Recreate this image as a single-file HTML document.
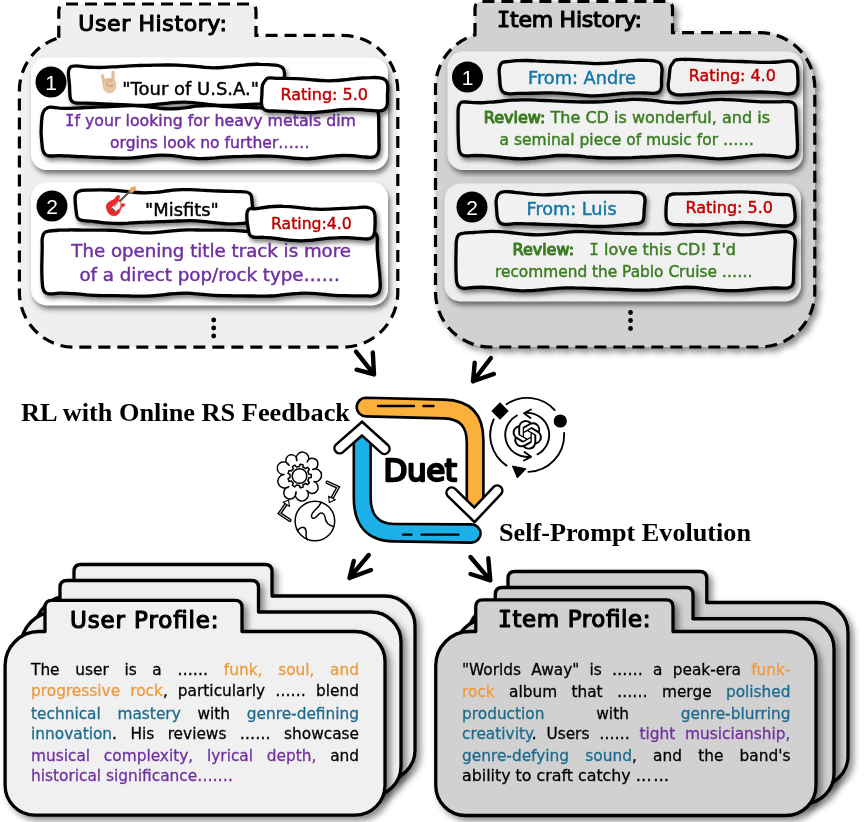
<!DOCTYPE html>
<html lang="en"><head><meta charset="utf-8"><title>Duet</title>
<style>html,body{margin:0;padding:0;background:#fff}body{width:864px;height:822px;overflow:hidden;position:relative}svg{display:block;position:absolute;left:0;top:0;will-change:transform}
.ln{position:absolute;height:21px;line-height:21px;font-family:'DejaVu Sans','Liberation Sans',sans-serif;font-size:16px;color:#000;white-space:nowrap;text-align:justify;text-align-last:justify;-webkit-text-stroke:0.3px currentColor}
.ln.l{text-align:left;text-align-last:left}
.o{color:#EF9A3C}.t{color:#1B6A8E}.p{color:#7030A0}</style>
</head><body>
<svg width="864" height="822" viewBox="0 0 864 822">
<defs>
<filter id="sh" x="-10%" y="-10%" width="125%" height="135%"><feDropShadow dx="2" dy="3.2" stdDeviation="2.2" flood-color="#000" flood-opacity="0.5"/></filter>
<filter id="shc" x="-10%" y="-10%" width="125%" height="135%"><feDropShadow dx="2" dy="4" stdDeviation="2.6" flood-color="#000" flood-opacity="0.5"/></filter>
<filter id="shp" x="-10%" y="-10%" width="125%" height="125%"><feDropShadow dx="4" dy="4" stdDeviation="3" flood-color="#000" flood-opacity="0.45"/></filter>
</defs>
<path d="M58.8 37.7V11Q58.8 4 65.8 4H249Q256 4 256 11V35.4H342.8A55 55 0 0 1 397.8 90.4V292.2A55 55 0 0 1 342.8 347.2H74.4A55 55 0 0 1 19.4 292.2V90.4A55 55 0 0 1 58.8 37.7Z" fill="#efefef" stroke="#000" stroke-width="3.2" stroke-dasharray="12 7"/>
<rect x="31" y="57.5" width="357" height="112.5" rx="16" fill="#fff" filter="url(#shc)"/>
<rect x="31" y="182.3" width="357" height="123" rx="16" fill="#fff" filter="url(#shc)"/>
<circle cx="51" cy="82" r="15.5" fill="#000"/><text x="51" y="89.5" text-anchor="middle" font-family="'Liberation Sans',sans-serif" font-size="21" fill="#fff">1</text>
<path d="M76 65.8C78.5 65.7 82.1 66.6 85.2 66.8C88.2 67.1 91.3 67.3 94.4 67.4C97.4 67.5 100.5 67.5 103.5 67.4C106.6 67.3 109.7 67.1 112.7 66.9C115.8 66.8 118.8 66.5 121.9 66.3C125 66.1 128 66 131.1 65.8C134.2 65.7 137.2 65.6 140.3 65.5C143.3 65.4 146.4 65.4 149.5 65.3C152.5 65.2 155.6 65.2 158.6 65.1C161.7 65 164.8 65 167.8 65C170.9 65 173.9 65 177 65.1C180.1 65.2 183.1 65.4 186.2 65.6C189.2 65.8 192.3 66.2 195.4 66.4C198.4 66.7 201.5 67.1 204.5 67.3C207.6 67.5 210.7 67.7 213.7 67.8C216.8 67.8 219.8 67.7 222.9 67.5C226 67.3 229 66.9 232.1 66.6C235.2 66.2 238.2 65.8 241.3 65.4C244.3 65.1 247.4 64.7 250.5 64.5C253.5 64.3 256.6 64.2 259.6 64.3C262.7 64.3 265.8 64.5 268.8 64.7C271.9 64.9 275.7 65 278 65.5C280.3 66.1 281.8 66.8 282.9 68.1C284 69.3 284.3 70.2 284.5 73C284.7 75.8 284.1 81 284 85C284 89 284.4 94.3 284.1 97C283.8 99.7 283.4 100.3 282.4 101.4C281.4 102.4 280.3 102.9 278 103.3C275.7 103.6 271.9 103.4 268.8 103.5C265.8 103.6 262.7 103.6 259.6 103.8C256.6 103.9 253.5 104.1 250.5 104.3C247.4 104.5 244.3 104.7 241.3 104.9C238.2 105.1 235.2 105.3 232.1 105.4C229 105.5 226 105.5 222.9 105.5C219.8 105.4 216.8 105.2 213.7 104.9C210.7 104.6 207.6 104.2 204.5 103.8C201.5 103.5 198.4 103.1 195.4 102.8C192.3 102.5 189.2 102.2 186.2 102.2C183.1 102.1 180.1 102.2 177 102.3C173.9 102.5 170.9 102.8 167.8 103.2C164.8 103.5 161.7 103.9 158.6 104.2C155.6 104.6 152.5 104.9 149.5 105.1C146.4 105.3 143.3 105.4 140.3 105.4C137.2 105.4 134.2 105.3 131.1 105.2C128 105.1 125 104.9 121.9 104.7C118.8 104.5 115.8 104.3 112.7 104.2C109.7 104 106.6 103.9 103.5 103.8C100.5 103.7 97.4 103.6 94.4 103.5C91.3 103.4 88.2 103.3 85.2 103.2C82.1 103.2 78.2 103.3 76 103C73.8 102.6 72.8 102.2 71.8 101.2C70.9 100.2 70.5 99.7 70.1 97C69.7 94.3 69.8 89 69.5 85C69.3 81 68.3 76 68.4 73C68.5 70 68.9 68.4 70.2 67.2C71.5 66 73.5 65.8 76 65.8Z" fill="#fff" stroke="#000" stroke-width="3.3" stroke-linejoin="round" filter="url(#sh)"/>
<path d="M50 107.2C52.3 107 56.1 107.9 59.2 108.1C62.2 108.2 65.3 108.3 68.3 108.3C71.4 108.3 74.5 108.1 77.5 108C80.6 107.8 83.6 107.7 86.7 107.5C89.7 107.4 92.8 107.3 95.9 107.1C98.9 107 102 106.9 105 106.8C108.1 106.7 111.1 106.5 114.2 106.4C117.3 106.2 120.3 106 123.4 105.9C126.4 105.8 129.5 105.6 132.5 105.7C135.6 105.7 138.7 105.9 141.7 106.1C144.8 106.3 147.8 106.8 150.9 107.1C153.9 107.5 157 108 160.1 108.3C163.1 108.6 166.2 108.8 169.2 108.9C172.3 108.9 175.3 108.7 178.4 108.5C181.5 108.2 184.5 107.8 187.6 107.4C190.6 107 193.7 106.5 196.7 106.2C199.8 105.9 202.9 105.6 205.9 105.6C209 105.5 212 105.6 215.1 105.7C218.1 105.8 221.2 106.1 224.3 106.3C227.3 106.5 230.4 106.7 233.4 106.9C236.5 107.1 239.5 107.2 242.6 107.3C245.7 107.4 248.7 107.5 251.8 107.6C254.8 107.7 257.9 107.8 260.9 107.9C264 107.9 267.1 108.1 270.1 108.1C273.2 108.1 276.2 108.1 279.3 108C282.3 107.9 285.4 107.6 288.5 107.3C291.5 107.1 294.6 106.6 297.6 106.3C300.7 106 303.7 105.6 306.8 105.4C309.9 105.2 312.9 105.1 316 105.2C319 105.3 322.1 105.6 325.1 106C328.2 106.3 331.3 106.9 334.3 107.3C337.4 107.7 340.4 108.1 343.5 108.3C346.5 108.6 349.6 108.7 352.7 108.6C355.7 108.6 358.8 108.4 361.8 108.2C364.9 107.9 368.6 107.2 371 107.3C373.4 107.5 374.8 107.9 376 109C377.3 110.1 378 111.7 378.4 114C378.9 116.3 378.7 120 378.7 123C378.8 126 378.8 129 378.8 132C378.9 135 378.9 138 378.9 141C378.9 144 379.2 147.6 378.8 150C378.4 152.4 377.7 154.2 376.4 155.4C375.1 156.7 373.4 157.2 371 157.4C368.6 157.6 364.9 156.8 361.8 156.6C358.8 156.3 355.7 155.9 352.7 155.7C349.6 155.5 346.5 155.3 343.5 155.3C340.4 155.3 337.4 155.5 334.3 155.8C331.3 156 328.2 156.5 325.1 156.9C322.1 157.4 319 157.9 316 158.2C312.9 158.5 309.9 158.7 306.8 158.8C303.7 158.8 300.7 158.7 297.6 158.4C294.6 158.2 291.5 157.8 288.5 157.5C285.4 157.2 282.3 156.8 279.3 156.6C276.2 156.3 273.2 156.2 270.1 156.1C267.1 156 264 156 260.9 156C257.9 156 254.8 156.1 251.8 156.2C248.7 156.2 245.7 156.3 242.6 156.4C239.5 156.4 236.5 156.5 233.4 156.6C230.4 156.7 227.3 156.9 224.3 157.1C221.2 157.3 218.1 157.6 215.1 157.9C212 158.1 209 158.4 205.9 158.5C202.9 158.6 199.8 158.6 196.7 158.5C193.7 158.3 190.6 158 187.6 157.7C184.5 157.3 181.5 156.8 178.4 156.4C175.3 156 172.3 155.6 169.2 155.4C166.2 155.2 163.1 155.1 160.1 155.2C157 155.3 153.9 155.6 150.9 155.9C147.8 156.2 144.8 156.7 141.7 157C138.7 157.4 135.6 157.7 132.5 157.9C129.5 158.1 126.4 158.2 123.4 158.2C120.3 158.2 117.3 158.1 114.2 158C111.1 157.9 108.1 157.7 105 157.6C102 157.5 98.9 157.4 95.9 157.3C92.8 157.2 89.7 157.1 86.7 156.9C83.6 156.8 80.6 156.6 77.5 156.5C74.5 156.3 71.4 156 68.3 155.9C65.3 155.8 62.2 155.6 59.2 155.6C56.1 155.6 52.3 156.1 50 156C47.7 155.8 46.6 155.6 45.4 154.6C44.2 153.6 43.5 152.3 42.8 150C42.2 147.7 42 144 41.7 141C41.4 138 41.2 135 41.1 132C41.1 129 41.3 126 41.5 123C41.7 120 41.9 116.3 42.6 114C43.2 111.7 44 110.4 45.3 109.3C46.5 108.1 47.7 107.4 50 107.2Z" fill="#fff" stroke="#000" stroke-width="3.3" stroke-linejoin="round" filter="url(#sh)"/>
<path d="M268 78.1C270.2 77.5 274.2 78.2 277.3 78.3C280.4 78.3 283.6 78.3 286.7 78.4C289.8 78.4 292.9 78.5 296 78.6C299.1 78.7 302.2 78.9 305.3 79.2C308.4 79.4 311.6 79.8 314.7 80C317.8 80.3 320.9 80.6 324 80.7C327.1 80.8 330.2 80.8 333.3 80.7C336.4 80.6 339.6 80.3 342.7 80C345.8 79.7 348.9 79.3 352 78.9C355.1 78.6 358.2 78.2 361.3 78C364.4 77.7 367.6 77.6 370.7 77.6C373.8 77.5 377.5 77.3 380 77.8C382.5 78.2 384.4 79 385.7 80.3C386.9 81.7 387.5 83.6 387.8 86C388 88.4 387.5 92 387.4 95C387.4 98 387.7 101.7 387.3 104C386.9 106.3 386.2 107.9 385 109C383.8 110.2 382.4 110.7 380 110.9C377.6 111.1 373.8 110.6 370.7 110.4C367.6 110.2 364.4 109.9 361.3 109.7C358.2 109.5 355.1 109.3 352 109.3C348.9 109.3 345.8 109.4 342.7 109.6C339.6 109.8 336.4 110.2 333.3 110.6C330.2 110.9 327.1 111.4 324 111.7C320.9 112 317.8 112.3 314.7 112.5C311.6 112.6 308.4 112.6 305.3 112.6C302.2 112.5 299.1 112.3 296 112.1C292.9 111.9 289.8 111.7 286.7 111.5C283.6 111.3 280.4 111.2 277.3 111.1C274.2 110.9 270.3 111.2 268 110.8C265.7 110.4 264.3 109.9 263.3 108.7C262.2 107.6 261.7 106.3 261.5 104C261.2 101.7 261.7 98 261.9 95C262 92 262 88.1 262.3 86C262.7 83.9 263.2 83.4 264.1 82.1C265 80.8 265.8 78.7 268 78.1Z" fill="#fff" stroke="#000" stroke-width="3.3" stroke-linejoin="round" filter="url(#sh)"/>
<text x="122.3" y="95.2" font-family="'DejaVu Sans','Liberation Sans',sans-serif" font-size="18" font-weight="400" fill="#000" stroke="#000" stroke-width="0.45" stroke-linejoin="round" textLength="136.7" lengthAdjust="spacingAndGlyphs" >"Tour of U.S.A."</text>
<text x="280.5" y="100" font-family="'DejaVu Sans','Liberation Sans',sans-serif" font-size="16.5" font-weight="400" fill="#C00000" stroke="#C00000" stroke-width="0.45" stroke-linejoin="round" textLength="87.5" lengthAdjust="spacingAndGlyphs" >Rating: 5.0</text>
<text x="64.9" y="125.8" font-family="'DejaVu Sans','Liberation Sans',sans-serif" font-size="15.5" font-weight="400" fill="#7030A0" stroke="#7030A0" stroke-width="0.45" stroke-linejoin="round" textLength="291.1" lengthAdjust="spacingAndGlyphs" ><tspan font-family="'DejaVu Sans Mono','Liberation Mono',monospace">I</tspan>f your looking for heavy metals dim</text>
<text x="110" y="147.5" font-family="'DejaVu Sans','Liberation Sans',sans-serif" font-size="15.5" font-weight="400" fill="#7030A0" stroke="#7030A0" stroke-width="0.45" stroke-linejoin="round" textLength="199.5" lengthAdjust="spacingAndGlyphs" >orgins look no further……</text>
<circle cx="52" cy="206" r="15.5" fill="#000"/><text x="52" y="213.5" text-anchor="middle" font-family="'Liberation Sans',sans-serif" font-size="21" fill="#fff">2</text>
<path d="M82 190.3C84.4 189.9 88.1 190.1 91.1 190.1C94.1 190 97.2 189.9 100.2 189.9C103.3 189.9 106.3 189.9 109.3 190C112.4 190.1 115.4 190.4 118.4 190.6C121.5 190.9 124.5 191.3 127.6 191.6C130.6 191.9 133.6 192.3 136.7 192.5C139.7 192.7 142.7 192.9 145.8 192.8C148.8 192.8 151.9 192.6 154.9 192.4C157.9 192.1 161 191.7 164 191.3C167 191 170.1 190.5 173.1 190.2C176.1 189.9 179.2 189.7 182.2 189.6C185.3 189.5 188.3 189.5 191.3 189.6C194.4 189.7 197.4 189.9 200.4 190.1C203.5 190.2 206.5 190.5 209.6 190.6C212.6 190.8 215.6 190.9 218.7 191C221.7 191.1 224.7 191.2 227.8 191.3C230.8 191.4 233.9 191.5 236.9 191.6C239.9 191.7 243.8 191.6 246 192C248.2 192.4 249.2 192.9 250.1 193.9C251.1 194.9 251.3 194.5 251.7 198C252.1 201.5 252.7 211.3 252.6 215C252.5 218.7 252.2 218.8 251.1 220.1C250 221.4 248.4 222.2 246 222.8C243.6 223.4 239.9 223.5 236.9 223.7C233.9 223.8 230.8 223.9 227.8 223.8C224.7 223.7 221.7 223.5 218.7 223.2C215.6 222.9 212.6 222.4 209.6 222.1C206.5 221.8 203.5 221.4 200.4 221.1C197.4 220.9 194.4 220.8 191.3 220.7C188.3 220.6 185.3 220.7 182.2 220.8C179.2 220.9 176.1 221.1 173.1 221.2C170.1 221.3 167 221.5 164 221.6C161 221.7 157.9 221.7 154.9 221.8C151.9 221.9 148.8 222 145.8 222.2C142.7 222.3 139.7 222.5 136.7 222.6C133.6 222.8 130.6 223 127.6 223.2C124.5 223.3 121.5 223.5 118.4 223.5C115.4 223.5 112.4 223.4 109.3 223.2C106.3 223 103.3 222.7 100.2 222.3C97.2 222 94.1 221.5 91.1 221.2C88.1 220.8 84.1 220.7 82 220.3C79.9 219.9 79.2 219.5 78.4 218.6C77.5 217.8 77.3 218.4 76.7 215C76.2 211.6 75.1 201.7 75.1 198C75.1 194.3 75.6 194 76.7 192.7C77.9 191.5 79.6 190.7 82 190.3Z" fill="#fff" stroke="#000" stroke-width="3.3" stroke-linejoin="round" filter="url(#sh)"/>
<path d="M50 231C52.4 230.6 56.1 230.4 59.2 230.2C62.3 230.1 65.3 230 68.4 230C71.5 229.9 74.5 230 77.6 230C80.7 230.1 83.7 230.1 86.8 230.2C89.9 230.2 92.9 230.2 96 230.1C99.1 230.1 102.1 230.1 105.2 230.1C108.3 230.2 111.3 230.3 114.4 230.4C117.5 230.6 120.5 230.9 123.6 231.2C126.7 231.4 129.7 231.8 132.8 232.1C135.9 232.4 138.9 232.6 142 232.8C145.1 232.9 148.1 232.9 151.2 232.8C154.3 232.7 157.3 232.4 160.4 232.1C163.5 231.8 166.5 231.4 169.6 231.1C172.7 230.8 175.7 230.5 178.8 230.3C181.9 230.1 184.9 230 188 229.9C191.1 229.9 194.1 230 197.2 230C200.3 230 203.3 230.1 206.4 230.1C209.5 230.2 212.5 230.2 215.6 230.2C218.7 230.2 221.7 230.1 224.8 230.2C227.9 230.2 230.9 230.3 234 230.4C237.1 230.5 240.1 230.8 243.2 231C246.3 231.3 249.3 231.7 252.4 231.9C255.5 232.2 258.5 232.5 261.6 232.7C264.7 232.8 267.7 232.9 270.8 232.8C273.9 232.7 276.9 232.5 280 232.2C283.1 232 286.1 231.6 289.2 231.2C292.3 230.9 295.3 230.6 298.4 230.4C301.5 230.1 304.5 230 307.6 229.9C310.7 229.9 313.7 229.9 316.8 229.9C319.9 230 322.9 230.1 326 230.1C329.1 230.2 332.1 230.2 335.2 230.2C338.3 230.2 341.3 230.2 344.4 230.2C347.5 230.2 350.5 230.2 353.6 230.4C356.7 230.5 359.7 230.7 362.8 230.9C365.9 231.2 369.8 231.3 372 231.8C374.2 232.3 375.1 232.9 376 234C376.9 235 377.1 235.7 377.3 238C377.5 240.3 377.1 244.7 377.2 248C377.3 251.3 377.6 254.7 377.9 258C378.2 261.3 378.7 264.7 379 268C379.4 271.3 379.7 274.7 379.9 278C380.1 281.3 380.5 285.4 380.1 288C379.8 290.6 379.1 292.4 377.7 293.7C376.4 295 374.5 295.6 372 296C369.5 296.3 365.9 295.8 362.8 295.8C359.7 295.8 356.7 295.8 353.6 295.8C350.5 295.8 347.5 295.8 344.4 295.7C341.3 295.6 338.3 295.5 335.2 295.3C332.1 295.1 329.1 294.8 326 294.5C322.9 294.3 319.9 293.9 316.8 293.7C313.7 293.4 310.7 293.2 307.6 293.2C304.5 293.1 301.5 293.2 298.4 293.4C295.3 293.5 292.3 293.9 289.2 294.2C286.1 294.5 283.1 294.9 280 295.2C276.9 295.5 273.9 295.8 270.8 296C267.7 296.1 264.7 296.2 261.6 296.2C258.5 296.2 255.5 296.1 252.4 296C249.3 296 246.3 295.9 243.2 295.8C240.1 295.8 237.1 295.8 234 295.8C230.9 295.7 227.9 295.8 224.8 295.7C221.7 295.6 218.7 295.6 215.6 295.4C212.5 295.2 209.5 294.9 206.4 294.7C203.3 294.4 200.3 294 197.2 293.8C194.1 293.6 191.1 293.3 188 293.2C184.9 293.1 181.9 293.2 178.8 293.3C175.7 293.4 172.7 293.7 169.6 294C166.5 294.3 163.5 294.8 160.4 295.1C157.3 295.4 154.3 295.7 151.2 295.9C148.1 296.1 145.1 296.2 142 296.2C138.9 296.2 135.9 296.1 132.8 296.1C129.7 296 126.7 295.9 123.6 295.8C120.5 295.8 117.5 295.8 114.4 295.7C111.3 295.7 108.3 295.7 105.2 295.7C102.1 295.6 99.1 295.6 96 295.4C92.9 295.3 89.9 295 86.8 294.8C83.7 294.5 80.7 294.2 77.6 293.9C74.5 293.7 71.5 293.4 68.4 293.3C65.3 293.2 62.3 293.1 59.2 293.2C56.1 293.3 52.3 294 50 293.9C47.7 293.8 46.6 293.6 45.4 292.6C44.2 291.6 43.5 290.4 42.9 288C42.3 285.6 42.2 281.3 42 278C41.8 274.7 41.8 271.3 41.8 268C41.8 264.7 41.9 261.3 42 258C42.1 254.7 42.2 251.3 42.2 248C42.3 244.7 41.9 240.6 42.3 238C42.7 235.4 43.3 233.8 44.6 232.6C45.9 231.4 47.6 231.4 50 231Z" fill="#fff" stroke="#000" stroke-width="3.3" stroke-linejoin="round" filter="url(#sh)"/>
<path d="M255 208.8C257.6 208.5 261.2 207.9 264.3 207.5C267.4 207.1 270.6 206.7 273.7 206.5C276.8 206.3 279.9 206.2 283 206.3C286.1 206.3 289.2 206.6 292.3 206.8C295.4 207.1 298.6 207.5 301.7 207.8C304.8 208.2 307.9 208.5 311 208.8C314.1 209 317.2 209.2 320.3 209.3C323.4 209.3 326.6 209.3 329.7 209.2C332.8 209.1 335.9 208.9 339 208.7C342.1 208.5 345.2 208.2 348.3 208.1C351.4 207.9 354.6 207.7 357.7 207.6C360.8 207.4 364.5 207 367 207.3C369.5 207.6 371.2 208.2 372.5 209.5C373.8 210.8 374.5 211.2 374.9 215C375.2 218.8 375 228.3 374.6 232C374.1 235.7 373.4 236 372.2 237.2C370.9 238.3 369.4 238.8 367 239C364.6 239.1 360.8 238.5 357.7 238.3C354.6 238.1 351.4 237.8 348.3 237.7C345.2 237.6 342.1 237.6 339 237.7C335.9 237.7 332.8 238 329.7 238.2C326.6 238.5 323.4 238.9 320.3 239.2C317.2 239.6 314.1 240 311 240.3C307.9 240.5 304.8 240.8 301.7 240.8C298.6 240.8 295.4 240.7 292.3 240.4C289.2 240.2 286.1 239.8 283 239.4C279.9 239 276.8 238.5 273.7 238.1C270.6 237.8 267.4 237.4 264.3 237.3C261.2 237.1 257.2 237.5 255 237.3C252.8 237.1 252 236.9 251 236C250 235.1 249.4 235.5 248.8 232C248.1 228.5 246.8 218.8 246.8 215C246.9 211.2 247.7 210.1 249 209C250.4 208 252.4 209 255 208.8Z" fill="#fff" stroke="#000" stroke-width="3.3" stroke-linejoin="round" filter="url(#sh)"/>
<text x="145" y="215.8" font-family="'DejaVu Sans','Liberation Sans',sans-serif" font-size="18" font-weight="400" fill="#000" stroke="#000" stroke-width="0.45" stroke-linejoin="round" textLength="73.8" lengthAdjust="spacingAndGlyphs" >"Misfits"</text>
<text x="271" y="228.8" font-family="'DejaVu Sans','Liberation Sans',sans-serif" font-size="16.5" font-weight="400" fill="#C00000" stroke="#C00000" stroke-width="0.45" stroke-linejoin="round" textLength="80.8" lengthAdjust="spacingAndGlyphs" >Rating:4.0</text>
<text x="71.3" y="256.7" font-family="'DejaVu Sans','Liberation Sans',sans-serif" font-size="17" font-weight="400" fill="#7030A0" stroke="#7030A0" stroke-width="0.45" stroke-linejoin="round" textLength="279.7" lengthAdjust="spacingAndGlyphs" >The opening title track is more</text>
<text x="79.4" y="280.5" font-family="'DejaVu Sans','Liberation Sans',sans-serif" font-size="17" font-weight="400" fill="#7030A0" stroke="#7030A0" stroke-width="0.45" stroke-linejoin="round" textLength="260.6" lengthAdjust="spacingAndGlyphs" >of a direct pop/rock type……</text>
<g stroke-linecap="round" stroke-linejoin="round"><path d="M113.1 72.2L113 85" stroke="#E3BE98" stroke-width="3.3" fill="none"/><path d="M102.4 75.6L104.6 85" stroke="#E3BE98" stroke-width="3.1" fill="none"/><path d="M103 83C103 80 106 78.5 109 78.5C112.5 78.5 115.6 80 115.8 84C116 89.5 113.5 92.8 109.3 92.8C105 92.8 102.6 88.5 103 83Z" fill="#E9C6A2" stroke="#E0B892" stroke-width="0.8"/><path d="M106.2 79.5V83M108.8 79V82.6M111.3 79.3V82.8" stroke="#D2A37B" stroke-width="0.7" fill="none"/><path d="M106.5 84.2C108 86.6 110.8 86.8 112.6 85.3" stroke="#C99A72" stroke-width="1.3" fill="none"/></g>
<g stroke-linecap="round" stroke-linejoin="round"><path d="M119.3 201.8L130 191" stroke="#555" stroke-width="2.1" fill="none"/><path d="M129.3 190.2L131.5 187.3L135.4 186.8L135.7 188.8L133.2 192.3L130.6 192.6Z" fill="#F2A45C" stroke="#E8964A" stroke-width="0.6"/><path d="M106.4 207.2C105.8 202.5 110.5 201.2 113.6 199.8C115.4 198.6 115.6 195.6 119.2 195.2C120.3 196.6 118.4 199 119.3 201.4L121.6 204C122.8 203.6 124 203.5 125 204.3C124.6 206 122.6 207 121.2 207.6C120.2 211.2 119.2 215 114.6 215.7C110 216.2 106.8 212 106.4 207.2Z" fill="#F0282A" stroke="#E11D22" stroke-width="0.6"/><path d="M111.8 207.6L118.6 201.2L120.6 203.4L120 208L115.4 211.4Z" fill="#F4F4F4" stroke="#DDD" stroke-width="0.4"/><path d="M112 208.6L114.8 211" stroke="#555" stroke-width="1.3" fill="none"/><path d="M114.2 205.8L117.2 203" stroke="#888" stroke-width="1.6" fill="none"/></g>
<circle cx="213.7" cy="320" r="2.4" fill="#000"/>
<circle cx="213.7" cy="328" r="2.4" fill="#000"/>
<circle cx="213.7" cy="336" r="2.4" fill="#000"/>
<text x="78.3" y="30.5" font-family="'DejaVu Sans','Liberation Sans',sans-serif" font-size="22" font-weight="400" fill="#000" stroke="#000" stroke-width="1.14" stroke-linejoin="round" stroke-linecap="round" textLength="148.5" lengthAdjust="spacing" >User History:</text>
<path d="M475 34.9V8.4Q475 1.4 482 1.4H665.5Q672.5 1.4 672.5 8.4V32.7H759.8A55 55 0 0 1 814.8 87.7V292A55 55 0 0 1 759.8 347H490.5A55 55 0 0 1 435.5 292V87.7A55 55 0 0 1 475 34.9Z" fill="#d1d1d1" stroke="#000" stroke-width="3.2" stroke-dasharray="12 7" filter="url(#shp)"/>
<rect x="447.5" y="51.6" width="355.5" height="118.4" rx="16" fill="#ededed" filter="url(#shc)"/>
<rect x="444.6" y="183.6" width="356.4" height="117.6" rx="16" fill="#ededed" filter="url(#shc)"/>
<circle cx="467.5" cy="77" r="15.5" fill="#000"/><text x="467.5" y="84.5" text-anchor="middle" font-family="'Liberation Sans',sans-serif" font-size="21" fill="#fff">1</text>
<path d="M508 61.6C510.6 61.2 514.1 60.9 517.2 60.7C520.2 60.6 523.3 60.5 526.4 60.5C529.4 60.6 532.5 60.7 535.6 60.9C538.6 61 541.7 61.2 544.8 61.4C547.8 61.5 550.9 61.6 553.9 61.7C557 61.9 560.1 61.9 563.1 62C566.2 62.1 569.2 62.1 572.3 62.3C575.4 62.4 578.4 62.6 581.5 62.8C584.6 63 587.6 63.2 590.7 63.3C593.8 63.5 596.8 63.6 599.9 63.5C602.9 63.5 606 63.4 609.1 63.1C612.1 62.9 615.2 62.4 618.2 62.1C621.3 61.7 624.4 61.3 627.4 61C630.5 60.7 633.6 60.4 636.6 60.3C639.7 60.2 642.8 60.2 645.8 60.4C648.9 60.5 652.6 60.5 655 61.1C657.4 61.6 659.1 62.4 660.3 63.7C661.4 65 661.8 66.6 662 69C662.2 71.4 661.7 75 661.5 78C661.4 81 661.7 84.8 661.4 87C661 89.2 660.5 90.4 659.5 91.5C658.4 92.5 657.3 93 655 93.2C652.7 93.5 648.9 93.1 645.8 93C642.8 93 639.7 92.9 636.6 92.9C633.6 92.9 630.5 92.9 627.4 93.1C624.4 93.2 621.3 93.5 618.2 93.8C615.2 94.1 612.1 94.5 609.1 94.8C606 95.1 602.9 95.5 599.9 95.7C596.8 95.8 593.8 95.9 590.7 95.8C587.6 95.8 584.6 95.5 581.5 95.2C578.4 94.9 575.4 94.5 572.3 94.2C569.2 93.9 566.2 93.5 563.1 93.3C560.1 93.1 557 92.9 553.9 92.9C550.9 92.8 547.8 92.9 544.8 92.9C541.7 93 538.6 93.1 535.6 93.2C532.5 93.2 529.4 93.3 526.4 93.3C523.3 93.3 520.2 93.3 517.2 93.4C514.1 93.5 510.4 94 508 93.7C505.6 93.5 504.3 93.1 503 92C501.7 90.9 501 89.3 500.5 87C499.9 84.7 499.9 81 499.7 78C499.5 75 498.9 71.5 499.2 69C499.6 66.5 500.4 64.1 501.8 62.8C503.3 61.6 505.4 61.9 508 61.6Z" fill="#f1f1f1" stroke="#000" stroke-width="3.3" stroke-linejoin="round" filter="url(#sh)"/>
<path d="M676 59.9C678.2 59.1 682.3 59.5 685.4 59.5C688.6 59.4 691.7 59.5 694.8 59.6C698 59.8 701.1 60 704.2 60.2C707.4 60.3 710.5 60.5 713.7 60.7C716.8 60.8 719.9 60.9 723.1 61C726.2 61.1 729.4 61.2 732.5 61.3C735.6 61.3 738.8 61.4 741.9 61.5C745.1 61.7 748.2 61.8 751.3 61.9C754.5 62.1 757.6 62.2 760.8 62.3C763.9 62.4 767 62.4 770.2 62.4C773.3 62.3 776.4 62.1 779.6 61.8C782.7 61.6 786.5 60.8 789 60.9C791.5 61 793.1 61.3 794.5 62.5C795.9 63.7 796.7 65.6 797.3 68C797.8 70.4 797.7 74 797.8 77C797.9 80 798.2 83.5 797.7 86C797.2 88.5 796.3 90.6 794.9 91.9C793.4 93.2 791.6 93.7 789 93.8C786.4 94 782.7 93.2 779.6 92.9C776.4 92.7 773.3 92.4 770.2 92.3C767 92.1 763.9 92 760.8 92C757.6 92 754.5 92 751.3 92.1C748.2 92.1 745.1 92.1 741.9 92.2C738.8 92.2 735.6 92.2 732.5 92.2C729.4 92.2 726.2 92.2 723.1 92.3C719.9 92.4 716.8 92.5 713.7 92.6C710.5 92.8 707.4 93.1 704.2 93.3C701.1 93.6 698 93.9 694.8 94.1C691.7 94.4 688.6 94.6 685.4 94.7C682.3 94.8 678.6 95.1 676 94.7C673.4 94.2 671.4 93.4 670.1 91.9C668.8 90.5 668.3 88.5 668.2 86C668 83.5 668.9 80 669.2 77C669.5 74 669.7 70.2 670.1 68C670.6 65.8 671.1 65.4 672.1 64.1C673.1 62.7 673.8 60.6 676 59.9Z" fill="#f1f1f1" stroke="#000" stroke-width="3.3" stroke-linejoin="round" filter="url(#sh)"/>
<path d="M466 102C468.4 102 472.2 102.6 475.2 102.7C478.3 102.8 481.4 102.8 484.5 102.6C487.5 102.5 490.6 102.2 493.7 102C496.8 101.7 499.8 101.3 502.9 101C506 100.7 509.1 100.4 512.1 100.2C515.2 100 518.3 99.9 521.4 99.8C524.4 99.8 527.5 99.8 530.6 99.9C533.7 100 536.8 100.1 539.8 100.3C542.9 100.4 546 100.6 549.1 100.7C552.1 100.9 555.2 101 558.3 101.1C561.4 101.3 564.4 101.4 567.5 101.5C570.6 101.6 573.7 101.7 576.7 101.8C579.8 101.9 582.9 102 586 102C589 102 592.1 102 595.2 102C598.3 101.9 601.4 101.8 604.4 101.6C607.5 101.4 610.6 101.1 613.7 100.8C616.7 100.6 619.8 100.2 622.9 100C626 99.8 629 99.5 632.1 99.4C635.2 99.3 638.3 99.3 641.3 99.5C644.4 99.6 647.5 99.9 650.6 100.2C653.6 100.5 656.7 101 659.8 101.3C662.9 101.7 666 102.1 669 102.4C672.1 102.7 675.2 102.8 678.3 102.9C681.3 102.9 684.4 102.7 687.5 102.5C690.6 102.3 693.6 101.9 696.7 101.5C699.8 101.2 702.9 100.7 705.9 100.4C709 100.1 712.1 99.8 715.2 99.6C718.2 99.5 721.3 99.4 724.4 99.5C727.5 99.5 730.6 99.7 733.6 99.9C736.7 100.1 739.8 100.4 742.9 100.7C745.9 100.9 749 101.2 752.1 101.3C755.2 101.5 758.2 101.7 761.3 101.8C764.4 101.9 767.5 101.9 770.5 101.9C773.6 101.9 776.7 101.9 779.8 101.8C782.8 101.8 786.7 101.4 789 101.7C791.3 101.9 792.5 102.4 793.6 103.4C794.7 104.5 795.2 105.5 795.7 108C796.1 110.5 796 115 796.2 118.5C796.4 122 796.7 125.5 796.8 129C797 132.5 797.2 136 797.3 139.5C797.4 143 797.7 147.3 797.2 150C796.7 152.7 795.9 154.3 794.6 155.6C793.2 156.8 791.5 157.2 789 157.4C786.5 157.5 782.8 156.6 779.8 156.3C776.7 156 773.6 155.6 770.5 155.4C767.5 155.3 764.4 155.1 761.3 155.2C758.2 155.2 755.2 155.5 752.1 155.7C749 156 745.9 156.5 742.9 156.8C739.8 157.2 736.7 157.7 733.6 158C730.6 158.3 727.5 158.6 724.4 158.7C721.3 158.8 718.2 158.8 715.2 158.7C712.1 158.5 709 158.2 705.9 157.9C702.9 157.6 699.8 157.2 696.7 156.9C693.6 156.6 690.6 156.3 687.5 156.1C684.4 155.9 681.3 155.8 678.3 155.7C675.2 155.7 672.1 155.8 669 155.9C666 156 662.9 156.2 659.8 156.3C656.7 156.5 653.6 156.7 650.6 156.8C647.5 157 644.4 157.1 641.3 157.2C638.3 157.4 635.2 157.5 632.1 157.6C629 157.6 626 157.7 622.9 157.8C619.8 157.9 616.7 157.9 613.7 158C610.6 158 607.5 158 604.4 157.9C601.4 157.8 598.3 157.7 595.2 157.5C592.1 157.3 589 157 586 156.8C582.9 156.5 579.8 156.2 576.7 156C573.7 155.8 570.6 155.5 567.5 155.4C564.4 155.4 561.4 155.4 558.3 155.5C555.2 155.6 552.1 155.9 549.1 156.3C546 156.6 542.9 157 539.8 157.4C536.8 157.8 533.7 158.2 530.6 158.4C527.5 158.7 524.4 158.9 521.4 158.9C518.3 158.9 515.2 158.7 512.1 158.5C509.1 158.3 506 157.8 502.9 157.5C499.8 157.1 496.8 156.7 493.7 156.3C490.6 156 487.5 155.7 484.5 155.6C481.4 155.4 478.3 155.4 475.2 155.4C472.2 155.5 468.3 156.1 466 155.9C463.7 155.8 462.6 155.5 461.5 154.5C460.4 153.5 459.7 152.5 459.2 150C458.6 147.5 458.6 143 458.4 139.5C458.2 136 458.1 132.5 458.1 129C458 125.5 458.1 122 458.1 118.5C458.1 115 457.9 110.6 458.3 108C458.8 105.4 459.4 103.7 460.7 102.7C462 101.7 463.6 102 466 102Z" fill="#f1f1f1" stroke="#000" stroke-width="3.3" stroke-linejoin="round" filter="url(#sh)"/>
<text x="528" y="83.6" font-family="'DejaVu Sans','Liberation Sans',sans-serif" font-size="17.5" font-weight="400" fill="#1277A8" stroke="#1277A8" stroke-width="0.45" stroke-linejoin="round" textLength="108" lengthAdjust="spacingAndGlyphs" >From: Andre</text>
<text x="688.8" y="80.8" font-family="'DejaVu Sans','Liberation Sans',sans-serif" font-size="16.5" font-weight="400" fill="#C00000" stroke="#C00000" stroke-width="0.45" stroke-linejoin="round" textLength="87" lengthAdjust="spacingAndGlyphs" >Rating: 4.0</text>
<text x="483.8" y="122.7" font-family="'DejaVu Sans','Liberation Sans',sans-serif" font-size="15.5" font-weight="400" fill="#3B7D23" stroke="#3B7D23" stroke-width="0.45" stroke-linejoin="round" textLength="286.2" lengthAdjust="spacingAndGlyphs" ><tspan stroke-width="1.1">Review:</tspan> The CD is wonderful, and is</text>
<text x="499.5" y="145" font-family="'DejaVu Sans','Liberation Sans',sans-serif" font-size="15.5" font-weight="400" fill="#3B7D23" stroke="#3B7D23" stroke-width="0.45" stroke-linejoin="round" textLength="254.5" lengthAdjust="spacingAndGlyphs" >a seminal piece of music for ……</text>
<circle cx="472" cy="207" r="15.5" fill="#000"/><text x="472" y="214.5" text-anchor="middle" font-family="'Liberation Sans',sans-serif" font-size="21" fill="#fff">2</text>
<path d="M505 191.6C507.6 191.3 511.4 192 514.5 192.3C517.7 192.6 520.9 193.1 524.1 193.4C527.2 193.8 530.4 194.1 533.6 194.4C536.8 194.6 540 194.8 543.1 194.8C546.3 194.8 549.5 194.7 552.7 194.5C555.9 194.3 559 194 562.2 193.8C565.4 193.5 568.6 193.2 571.8 192.9C574.9 192.7 578.1 192.5 581.3 192.4C584.5 192.3 587.6 192.2 590.8 192.2C594 192.2 597.2 192.2 600.4 192.2C603.5 192.2 606.7 192.1 609.9 192.1C613.1 192.1 616.2 192.1 619.4 192.1C622.6 192.1 625.8 192.1 629 192.2C632.1 192.3 636.1 192.1 638.5 192.6C640.9 193.1 642.4 193.8 643.4 195.1C644.5 196.3 644.9 197.7 645 200C645.1 202.3 644.4 206 644.2 209C644 212 644.1 215.9 643.7 218C643.4 220.1 643 220.8 642.2 221.7C641.3 222.6 640.7 223 638.5 223.4C636.3 223.8 632.1 223.9 629 224.3C625.8 224.6 622.6 225 619.4 225.4C616.2 225.7 613.1 226 609.9 226.2C606.7 226.4 603.5 226.5 600.4 226.5C597.2 226.5 594 226.4 590.8 226.3C587.6 226.1 584.5 225.9 581.3 225.7C578.1 225.6 574.9 225.4 571.8 225.3C568.6 225.1 565.4 225 562.2 224.9C559 224.8 555.9 224.8 552.7 224.7C549.5 224.6 546.3 224.5 543.1 224.4C540 224.3 536.8 224.1 533.6 224C530.4 223.9 527.2 223.7 524.1 223.7C520.9 223.6 517.7 223.6 514.5 223.7C511.4 223.8 507.4 224.5 505 224.3C502.6 224.2 501.4 223.9 500.1 222.9C498.9 221.8 498.1 220.3 497.5 218C496.9 215.7 496.8 212 496.6 209C496.4 206 495.8 202.5 496.2 200C496.5 197.5 497.3 195.2 498.8 193.8C500.2 192.4 502.4 191.8 505 191.6Z" fill="#f1f1f1" stroke="#000" stroke-width="3.3" stroke-linejoin="round" filter="url(#sh)"/>
<path d="M673 194C675.3 193.7 679.3 194 682.5 193.9C685.7 193.9 688.8 193.8 692 193.7C695.2 193.6 698.3 193.5 701.5 193.3C704.7 193.2 707.8 193.1 711 192.9C714.2 192.8 717.3 192.6 720.5 192.5C723.7 192.3 726.8 192.2 730 192.1C733.2 192 736.3 191.9 739.5 191.9C742.7 191.9 745.8 191.9 749 192.1C752.2 192.2 755.3 192.5 758.5 192.7C761.7 193 764.8 193.4 768 193.7C771.2 193.9 774.3 194.3 777.5 194.4C780.7 194.6 784.8 194.4 787 194.7C789.2 194.9 789.9 195.2 790.9 196.1C791.9 197 792.3 196.5 793 200C793.7 203.5 795.1 213.2 795.1 217C795.1 220.8 794.4 221.6 793.1 223.1C791.7 224.5 789.6 225.4 787 225.8C784.4 226.3 780.7 225.8 777.5 225.6C774.3 225.4 771.2 225 768 224.7C764.8 224.3 761.7 223.8 758.5 223.5C755.3 223.1 752.2 222.8 749 222.6C745.8 222.4 742.7 222.3 739.5 222.4C736.3 222.4 733.2 222.7 730 222.9C726.8 223.1 723.7 223.5 720.5 223.8C717.3 224 714.2 224.4 711 224.6C707.8 224.8 704.7 224.9 701.5 225C698.3 225.1 695.2 225.1 692 225C688.8 225 685.7 224.9 682.5 224.8C679.3 224.7 675.4 224.8 673 224.4C670.6 223.9 669.1 223.3 667.9 222.1C666.8 220.8 666.3 220.7 666.1 217C665.9 213.3 666.3 203.5 666.8 200C667.2 196.5 667.7 196.7 668.7 195.7C669.8 194.7 670.7 194.3 673 194Z" fill="#f1f1f1" stroke="#000" stroke-width="3.3" stroke-linejoin="round" filter="url(#sh)"/>
<path d="M464 233.2C466.4 232.8 470.2 232.7 473.2 232.5C476.3 232.2 479.4 232 482.5 231.8C485.5 231.6 488.6 231.4 491.7 231.4C494.8 231.4 497.8 231.5 500.9 231.7C504 231.8 507.1 232.2 510.1 232.5C513.2 232.8 516.3 233.3 519.4 233.6C522.4 234 525.5 234.3 528.6 234.5C531.7 234.8 534.8 234.9 537.8 234.9C540.9 234.8 544 234.7 547.1 234.4C550.1 234.2 553.2 233.8 556.3 233.5C559.4 233.1 562.4 232.7 565.5 232.4C568.6 232.1 571.7 231.8 574.7 231.7C577.8 231.6 580.9 231.5 584 231.6C587 231.6 590.1 231.8 593.2 231.9C596.3 232.1 599.4 232.3 602.4 232.5C605.5 232.7 608.6 232.9 611.7 233.1C614.7 233.2 617.8 233.3 620.9 233.4C624 233.5 627 233.6 630.1 233.7C633.2 233.7 636.3 233.8 639.3 233.8C642.4 233.9 645.5 233.9 648.6 233.9C651.6 233.9 654.7 233.9 657.8 233.9C660.9 233.8 664 233.7 667 233.5C670.1 233.3 673.2 233.1 676.3 232.8C679.3 232.6 682.4 232.2 685.5 232C688.6 231.8 691.6 231.5 694.7 231.4C697.8 231.3 700.9 231.3 703.9 231.4C707 231.5 710.1 231.8 713.2 232.1C716.2 232.4 719.3 232.8 722.4 233.2C725.5 233.5 728.6 234 731.6 234.2C734.7 234.5 737.8 234.7 740.9 234.8C743.9 234.9 747 234.8 750.1 234.7C753.2 234.5 756.2 234.2 759.3 233.9C762.4 233.5 765.5 233.1 768.5 232.8C771.6 232.5 774.7 232.2 777.8 232C780.8 231.8 784.5 231.3 787 231.7C789.5 232 791.5 232.7 792.9 234.1C794.2 235.5 794.8 237.3 795.1 240C795.4 242.7 794.8 247 794.6 250.5C794.4 254 794.2 257.5 794 261C793.9 264.5 793.8 268 793.7 271.5C793.5 275 793.7 279.5 793.3 282C793 284.5 792.4 285.4 791.4 286.4C790.3 287.4 789.3 287.8 787 288.1C784.7 288.3 780.8 287.9 777.8 287.9C774.7 288 771.6 288 768.5 288.1C765.5 288.3 762.4 288.5 759.3 288.7C756.2 289 753.2 289.3 750.1 289.6C747 289.9 743.9 290.2 740.9 290.4C737.8 290.6 734.7 290.7 731.6 290.7C728.6 290.7 725.5 290.6 722.4 290.4C719.3 290.2 716.2 289.8 713.2 289.5C710.1 289.1 707 288.6 703.9 288.3C700.9 287.9 697.8 287.6 694.7 287.4C691.6 287.2 688.6 287.2 685.5 287.2C682.4 287.3 679.3 287.5 676.3 287.7C673.2 287.9 670.1 288.3 667 288.6C664 288.9 660.9 289.3 657.8 289.6C654.7 289.8 651.6 290 648.6 290.1C645.5 290.2 642.4 290.2 639.3 290.2C636.3 290.2 633.2 290 630.1 289.9C627 289.8 624 289.7 620.9 289.5C617.8 289.4 614.7 289.3 611.7 289.2C608.6 289.1 605.5 289 602.4 288.8C599.4 288.7 596.3 288.6 593.2 288.5C590.1 288.4 587 288.2 584 288.1C580.9 288 577.8 287.9 574.7 287.9C571.7 287.8 568.6 287.8 565.5 287.9C562.4 288 559.4 288.1 556.3 288.3C553.2 288.6 550.1 288.9 547.1 289.2C544 289.5 540.9 289.9 537.8 290.1C534.8 290.4 531.7 290.7 528.6 290.7C525.5 290.8 522.4 290.8 519.4 290.7C516.3 290.5 513.2 290.2 510.1 289.9C507.1 289.6 504 289.1 500.9 288.7C497.8 288.4 494.8 288 491.7 287.7C488.6 287.5 485.5 287.3 482.5 287.2C479.4 287.2 476.3 287.3 473.2 287.5C470.2 287.7 466.3 288.4 464 288.3C461.7 288.1 460.4 287.8 459.2 286.8C458 285.8 457.2 284.6 456.7 282C456.2 279.4 456.2 275 456 271.5C455.9 268 455.9 264.5 455.9 261C455.9 257.5 456 254 456.1 250.5C456.2 247 456 242.6 456.5 240C456.9 237.4 457.6 235.9 458.8 234.8C460.1 233.7 461.6 233.5 464 233.2Z" fill="#f1f1f1" stroke="#000" stroke-width="3.3" stroke-linejoin="round" filter="url(#sh)"/>
<text x="526.5" y="214.5" font-family="'DejaVu Sans','Liberation Sans',sans-serif" font-size="17.5" font-weight="400" fill="#1277A8" stroke="#1277A8" stroke-width="0.45" stroke-linejoin="round" textLength="90.2" lengthAdjust="spacingAndGlyphs" >From: Luis</text>
<text x="685.5" y="213" font-family="'DejaVu Sans','Liberation Sans',sans-serif" font-size="16.5" font-weight="400" fill="#C00000" stroke="#C00000" stroke-width="0.45" stroke-linejoin="round" textLength="87.5" lengthAdjust="spacingAndGlyphs" >Rating: 5.0</text>
<text x="512.5" y="255" font-family="'DejaVu Sans','Liberation Sans',sans-serif" font-size="15.5" font-weight="400" fill="#3B7D23" stroke="#3B7D23" stroke-width="0.45" stroke-linejoin="round" textLength="223.5" lengthAdjust="spacingAndGlyphs" style="white-space:pre"><tspan stroke-width="1.1">Review:</tspan>   <tspan font-family="'DejaVu Sans Mono','Liberation Mono',monospace">I</tspan> love this CD! <tspan font-family="'DejaVu Sans Mono','Liberation Mono',monospace">I</tspan>'d</text>
<text x="495" y="277" font-family="'DejaVu Sans','Liberation Sans',sans-serif" font-size="15.5" font-weight="400" fill="#3B7D23" stroke="#3B7D23" stroke-width="0.45" stroke-linejoin="round" textLength="257.5" lengthAdjust="spacingAndGlyphs" >recommend the Pablo Cruise ……</text>
<circle cx="630.5" cy="312.5" r="2.4" fill="#000"/>
<circle cx="630.5" cy="320.5" r="2.4" fill="#000"/>
<circle cx="630.5" cy="328.5" r="2.4" fill="#000"/>
<text x="497" y="27" font-family="'DejaVu Sans','Liberation Sans',sans-serif" font-size="22" font-weight="400" fill="#000" stroke="#000" stroke-width="1.14" stroke-linejoin="round" stroke-linecap="round" textLength="145" lengthAdjust="spacing" ><tspan font-family="'DejaVu Sans Mono','Liberation Mono',monospace">I</tspan>tem History:</text>
<path d="M356 351.7L374 374.4M356.6 369.7L374 374.4L372.8 352.4" fill="none" stroke="#000" stroke-width="4.4" stroke-linecap="round" stroke-linejoin="round"/>
<path d="M490.9 358L473 381.3M474.7 362.8L473 381.3L493.9 373.9" fill="none" stroke="#000" stroke-width="4.4" stroke-linecap="round" stroke-linejoin="round"/>
<path d="M368.75 555L349.5 578M353.75 561L349.5 578L371 570" fill="none" stroke="#000" stroke-width="4.4" stroke-linecap="round" stroke-linejoin="round"/>
<path d="M470.5 557L490.3 580.3M470.5 574L490.3 580.3L488.3 558.3" fill="none" stroke="#000" stroke-width="4.4" stroke-linecap="round" stroke-linejoin="round"/>
<path d="M366 397.8L444 399.6C470 400.2 483.4 414 483.4 440V501L474.8 509L466.8 501V443C466.8 426 460 419 444 418.4L366 416.4A9.3 9.3 0 0 1 366 397.8Z" fill="#FBB03B" stroke="#000" stroke-width="2.6" stroke-linejoin="round"/>
<path d="M378 406H414M423.5 406H433.5" stroke="#000" stroke-width="2.4" stroke-linecap="round"/>
<path d="M471.5 542.6L394 541.4C366 541 353.8 524 353.8 498V440L362.5 432L370.6 440V497C370.6 515 378 523.6 394 524L471.5 524.4A9.1 9.1 0 0 1 471.5 542.6Z" fill="#1CB0E8" stroke="#000" stroke-width="2.6" stroke-linejoin="round"/>
<path d="M403 534.6H411.5M421.5 534.6H458.5" stroke="#000" stroke-width="2.4" stroke-linecap="round"/>
<path d="M451.6 492.6L474.4 514.8L497.2 490.6" fill="none" stroke="#000" stroke-width="12.8" stroke-linecap="round" stroke-linejoin="miter"/><path d="M451.6 492.6L474.4 514.8L497.2 490.6" fill="none" stroke="#fff" stroke-width="7.8" stroke-linecap="round" stroke-linejoin="miter"/>
<path d="M339.6 448.2L362 428.6L384.4 448.8" fill="none" stroke="#000" stroke-width="12.8" stroke-linecap="round" stroke-linejoin="miter"/><path d="M339.6 448.2L362 428.6L384.4 448.8" fill="none" stroke="#fff" stroke-width="7.8" stroke-linecap="round" stroke-linejoin="miter"/>
<text x="383.5" y="481" font-family="'DejaVu Sans','Liberation Sans',sans-serif" font-size="31" font-weight="400" fill="#000" stroke="#000" stroke-width="2.3" stroke-linejoin="round" stroke-linecap="round" textLength="73.5" lengthAdjust="spacing" >Duet</text>
<text x="21" y="421" font-family="'Liberation Serif',serif" font-size="26" font-weight="700" textLength="329" lengthAdjust="spacingAndGlyphs">RL with Online RS Feedback</text>
<text x="499" y="540.5" font-family="'Liberation Serif',serif" font-size="26" font-weight="700" textLength="252" lengthAdjust="spacingAndGlyphs">Self-Prompt Evolution</text>
<path d="M506.5 404.2A37 37 0 0 1 554.7 410.1M564.1 433A37 37 0 0 1 528.5 471.9M506.5 465.6A37 37 0 0 1 493.7 419.3" fill="none" stroke="#000" stroke-width="1.9" stroke-linecap="round"/>
<path d="M526 412.9A22 22 0 0 1 537.5 454.3M530.3 456.7A22 22 0 0 1 516.9 415.5" fill="none" stroke="#000" stroke-width="1.9" stroke-linecap="round"/>
<path d="M531 409.5L524 413.3L530.5 418" fill="none" stroke="#000" stroke-width="1.9" stroke-linecap="round" stroke-linejoin="round"/>
<path d="M524.5 452L531 456.8L524 460.5" fill="none" stroke="#000" stroke-width="1.9" stroke-linecap="round" stroke-linejoin="round"/>
<path d="M500 402.3L508.7 411L500 419.7L491.3 411Z" fill="#000"/>
<circle cx="560.3" cy="421" r="6.6" fill="#000"/>
<path d="M512.4 466L526 468.8L517.4 478Z" fill="#000" stroke="#000" stroke-width="1" stroke-linejoin="round"/>
<g transform="translate(512.5 420.1) scale(1.2292)"><path d="M22.2819 9.8211a5.9847 5.9847 0 0 0-.5157-4.9108 6.0462 6.0462 0 0 0-6.5098-2.9A6.0651 6.0651 0 0 0 4.9807 4.1818a5.9847 5.9847 0 0 0-3.9977 2.9 6.0462 6.0462 0 0 0 .7427 7.0966 5.98 5.98 0 0 0 .511 4.9107 6.051 6.051 0 0 0 6.5146 2.9001A5.9847 5.9847 0 0 0 13.2599 24a6.0557 6.0557 0 0 0 5.7718-4.2058 5.9894 5.9894 0 0 0 3.9977-2.9001 6.0557 6.0557 0 0 0-.7475-7.0729zm-9.022 12.6081a4.4755 4.4755 0 0 1-2.8764-1.0408l.1419-.0804 4.7783-2.7582a.7948.7948 0 0 0 .3927-.6813v-6.7369l2.02 1.1686a.071.071 0 0 1 .038.052v5.5826a4.504 4.504 0 0 1-4.4945 4.4944zm-9.6607-4.1254a4.4708 4.4708 0 0 1-.5346-3.0137l.142.0852 4.783 2.7582a.7712.7712 0 0 0 .7806 0l5.8428-3.3685v2.3324a.0804.0804 0 0 1-.0332.0615L9.74 19.9502a4.4992 4.4992 0 0 1-6.1408-1.6464zM2.3408 7.8956a4.485 4.485 0 0 1 2.3655-1.9728V11.6a.7664.7664 0 0 0 .3879.6765l5.8144 3.3543-2.0201 1.1685a.0757.0757 0 0 1-.071 0l-4.8303-2.7865A4.504 4.504 0 0 1 2.3408 7.872zm16.5963 3.8558L13.1038 8.364 15.1192 7.2a.0757.0757 0 0 1 .071 0l4.8303 2.7913a4.4944 4.4944 0 0 1-.6765 8.1042v-5.6772a.79.79 0 0 0-.407-.667zm2.0107-3.0231l-.142-.0852-4.7735-2.7818a.7759.7759 0 0 0-.7854 0L9.409 9.2297V6.8974a.0662.0662 0 0 1 .0284-.0615l4.8303-2.7866a4.4992 4.4992 0 0 1 6.6802 4.66zM8.3065 12.863l-2.02-1.1638a.0804.0804 0 0 1-.038-.0567V6.0742a4.4992 4.4992 0 0 1 7.3757-3.4537l-.142.0805L8.704 5.459a.7948.7948 0 0 0-.3927.6813zm1.0976-2.3654l2.602-1.4998 2.6069 1.4998v2.9994l-2.5974 1.4997-2.6067-1.4997Z" fill="#000"/></g>
<path d="M314 481.6A6.1 6.1 0 1 1 306.8 490.5A6.4 6.4 0 1 1 296.1 491.9A6.2 6.2 0 1 1 288.8 486.7A6.8 6.8 0 1 1 284.1 474.5A6.3 6.3 0 1 1 289.2 465.3A5.5 5.5 0 1 1 296.9 460.7A6.1 6.1 0 1 1 307.2 462A5.5 5.5 0 1 1 312.7 469.4A6.4 6.4 0 1 1 314 481.6Z" fill="#fff" stroke="#000" stroke-width="1.5" stroke-linejoin="round"/>
<path d="M308.9 474.2L311.2 474.5L311.2 477.5L308.9 477.8L307.9 480.7L309.4 482.4L307.5 484.7L305.6 483.4L302.9 485L303 487.3L300.1 487.8L299.4 485.6L296.3 485.1L294.9 486.9L292.4 485.4L293.2 483.3L291.3 480.9L289 481.4L288 478.6L290 477.5L290 474.5L288 473.4L289 470.6L291.3 471.1L293.2 468.7L292.4 466.6L294.9 465.1L296.3 466.9L299.4 466.4L300.1 464.2L303 464.7L302.9 467L305.6 468.6L307.5 467.3L309.4 469.6L307.9 471.3Z" fill="#fff" stroke="#000" stroke-width="1.5" stroke-linejoin="round"/>
<circle cx="299.5" cy="476" r="7.3" fill="#fff" stroke="#000" stroke-width="1.5"/>
<circle cx="314.9" cy="521" r="19.8" fill="#fff" stroke="#000" stroke-width="1.5"/>
<path d="M321 502.3C319 509 311 511 311.5 516.5C312 520 316 518 318.5 514.5C321 511.5 324.5 513 325 517C325.5 522 329 525.5 333.5 526.5" fill="none" stroke="#000" stroke-width="1.5" stroke-linecap="round"/>
<path d="M297.5 531C300 526.5 305 526 306 530.5C307 534.5 304.5 537 307.5 539.7" fill="none" stroke="#000" stroke-width="1.5" stroke-linecap="round"/>
<path d="M327.3 482.3L338 487.3L332.4 497.5" fill="none" stroke="#000" stroke-width="3.6" stroke-linecap="round" stroke-linejoin="miter"/><path d="M327.3 482.3L338 487.3L332.4 497.5" fill="none" stroke="#fff" stroke-width="0.9" stroke-linecap="round" stroke-linejoin="miter"/><path d="M328.6 496.2L329.3 502.6L335.3 499.8Z" fill="#fff" stroke="#000" stroke-width="1.1" stroke-linejoin="round"/>
<path d="M289.8 520.3L279.6 513.4L286 504.3" fill="none" stroke="#000" stroke-width="3.6" stroke-linecap="round" stroke-linejoin="miter"/><path d="M289.8 520.3L279.6 513.4L286 504.3" fill="none" stroke="#fff" stroke-width="0.9" stroke-linecap="round" stroke-linejoin="miter"/><path d="M283.2 502.2L288.6 500L289.4 506.4Z" fill="#fff" stroke="#000" stroke-width="1.1" stroke-linejoin="round"/>
<path d="M74 596V571.5Q74 564.5 81 564.5H265Q272 564.5 272 571.5V596H385A30 30 0 0 1 415 626V750A30 30 0 0 1 385 780H65A30 30 0 0 1 35 750V630A34 34 0 0 1 69 596Z" fill="#f0f0f0" stroke="#000" stroke-width="3.3" stroke-linejoin="round" filter="url(#shp)"/>
<path d="M60 612V587.5Q60 580.5 67 580.5H251.5Q258.5 580.5 258.5 587.5V612H371A30 30 0 0 1 401 642V766A30 30 0 0 1 371 796H51A30 30 0 0 1 21 766V646A34 34 0 0 1 55 612Z" fill="#f0f0f0" stroke="#000" stroke-width="3.3" stroke-linejoin="round" filter="url(#shp)"/>
<path d="M45 631.5V607.3Q45 600.3 52 600.3H235Q242 600.3 242 607.3V631.5H355A30 30 0 0 1 385 661.5V785.2A30 30 0 0 1 355 815.2H35.1A30 30 0 0 1 5.1 785.2V665.5A34 34 0 0 1 39.1 631.5Z" fill="#f0f0f0" stroke="#000" stroke-width="3.3" stroke-linejoin="round" filter="url(#shp)"/>
<text x="70" y="627.5" font-family="'DejaVu Sans','Liberation Sans',sans-serif" font-size="23" font-weight="400" fill="#000" stroke="#000" stroke-width="1.2" stroke-linejoin="round" stroke-linecap="round" textLength="148.5" lengthAdjust="spacing" >User Profile:</text>
<path d="M508 602.5V578.5Q508 571.5 515 571.5H699.75Q706.75 571.5 706.75 578.5V602.5H818A30 30 0 0 1 848 632.5V756A30 30 0 0 1 818 786H498A30 30 0 0 1 468 756V636.5A34 34 0 0 1 502 602.5Z" fill="#d1d1d1" stroke="#000" stroke-width="3.3" stroke-linejoin="round" filter="url(#shp)"/>
<path d="M495.3 618.75V594.5Q495.3 587.5 502.3 587.5H686Q693 587.5 693 594.5V618.75H804A30 30 0 0 1 834 648.75V773.5A30 30 0 0 1 804 803.5H484A30 30 0 0 1 454 773.5V652.75A34 34 0 0 1 488 618.75Z" fill="#d1d1d1" stroke="#000" stroke-width="3.3" stroke-linejoin="round" filter="url(#shp)"/>
<path d="M475.75 631.5V606.8Q475.75 599.8 482.75 599.8H666Q673 599.8 673 606.8V631.5H786A30 30 0 0 1 816 661.5V785.5A30 30 0 0 1 786 815.5H465.75A30 30 0 0 1 435.75 785.5V665.5A34 34 0 0 1 469.75 631.5Z" fill="#d1d1d1" stroke="#000" stroke-width="3.3" stroke-linejoin="round" filter="url(#shp)"/>
<text x="498" y="627" font-family="'DejaVu Sans','Liberation Sans',sans-serif" font-size="23" font-weight="400" fill="#000" stroke="#000" stroke-width="1.2" stroke-linejoin="round" stroke-linecap="round" textLength="152.5" lengthAdjust="spacing" ><tspan font-family="'DejaVu Sans Mono','Liberation Mono',monospace">I</tspan>tem Profile:</text>
</svg>
<div class="ln" style="left:31px;top:659.0px;width:341.7px;transform:scaleX(0.96);transform-origin:0 0">The user is a …… <span class="o">funk, soul, and</span></div>
<div class="ln" style="left:31px;top:680.4px;width:341.7px;transform:scaleX(0.96);transform-origin:0 0"><span class="o">progressive rock</span>, particularly …… blend</div>
<div class="ln" style="left:31px;top:702.7px;width:341.7px;transform:scaleX(0.96);transform-origin:0 0"><span class="t">technical mastery</span> with <span class="t">genre-defining</span></div>
<div class="ln" style="left:31px;top:722.7px;width:341.7px;transform:scaleX(0.96);transform-origin:0 0"><span class="t">innovation</span>. His reviews …… showcase</div>
<div class="ln" style="left:31px;top:744.9px;width:341.7px;transform:scaleX(0.96);transform-origin:0 0"><span class="p">musical complexity, lyrical depth,</span> and</div>
<div class="ln l" style="left:31px;top:764.6px;width:341.7px;transform:scaleX(0.96);transform-origin:0 0"><span class="p">historical significance…….</span></div>
<div class="ln" style="left:461.5px;top:659.3px;width:342.2px;transform:scaleX(0.96);transform-origin:0 0">"Worlds Away" is …… a peak-era <span class="o">funk-</span></div>
<div class="ln" style="left:461.5px;top:680.7px;width:342.2px;transform:scaleX(0.96);transform-origin:0 0"><span class="o">rock</span> album that …… merge <span class="t">polished</span></div>
<div class="ln" style="left:461.5px;top:703.0px;width:342.2px;transform:scaleX(0.96);transform-origin:0 0"><span class="t">production</span> with <span class="t">genre-blurring</span></div>
<div class="ln" style="left:461.5px;top:723.0px;width:342.2px;transform:scaleX(0.96);transform-origin:0 0"><span class="t">creativity</span>. Users …… <span class="p">tight musicianship,</span></div>
<div class="ln" style="left:461.5px;top:745.2px;width:342.2px;transform:scaleX(0.96);transform-origin:0 0"><span class="t">genre-defying sound</span>, and the band's</div>
<div class="ln l" style="left:461.5px;top:764.9px;width:342.2px;transform:scaleX(0.99);transform-origin:0 0">ability to craft catchy <span style="letter-spacing:1.6px">……</span></div>
</body></html>
